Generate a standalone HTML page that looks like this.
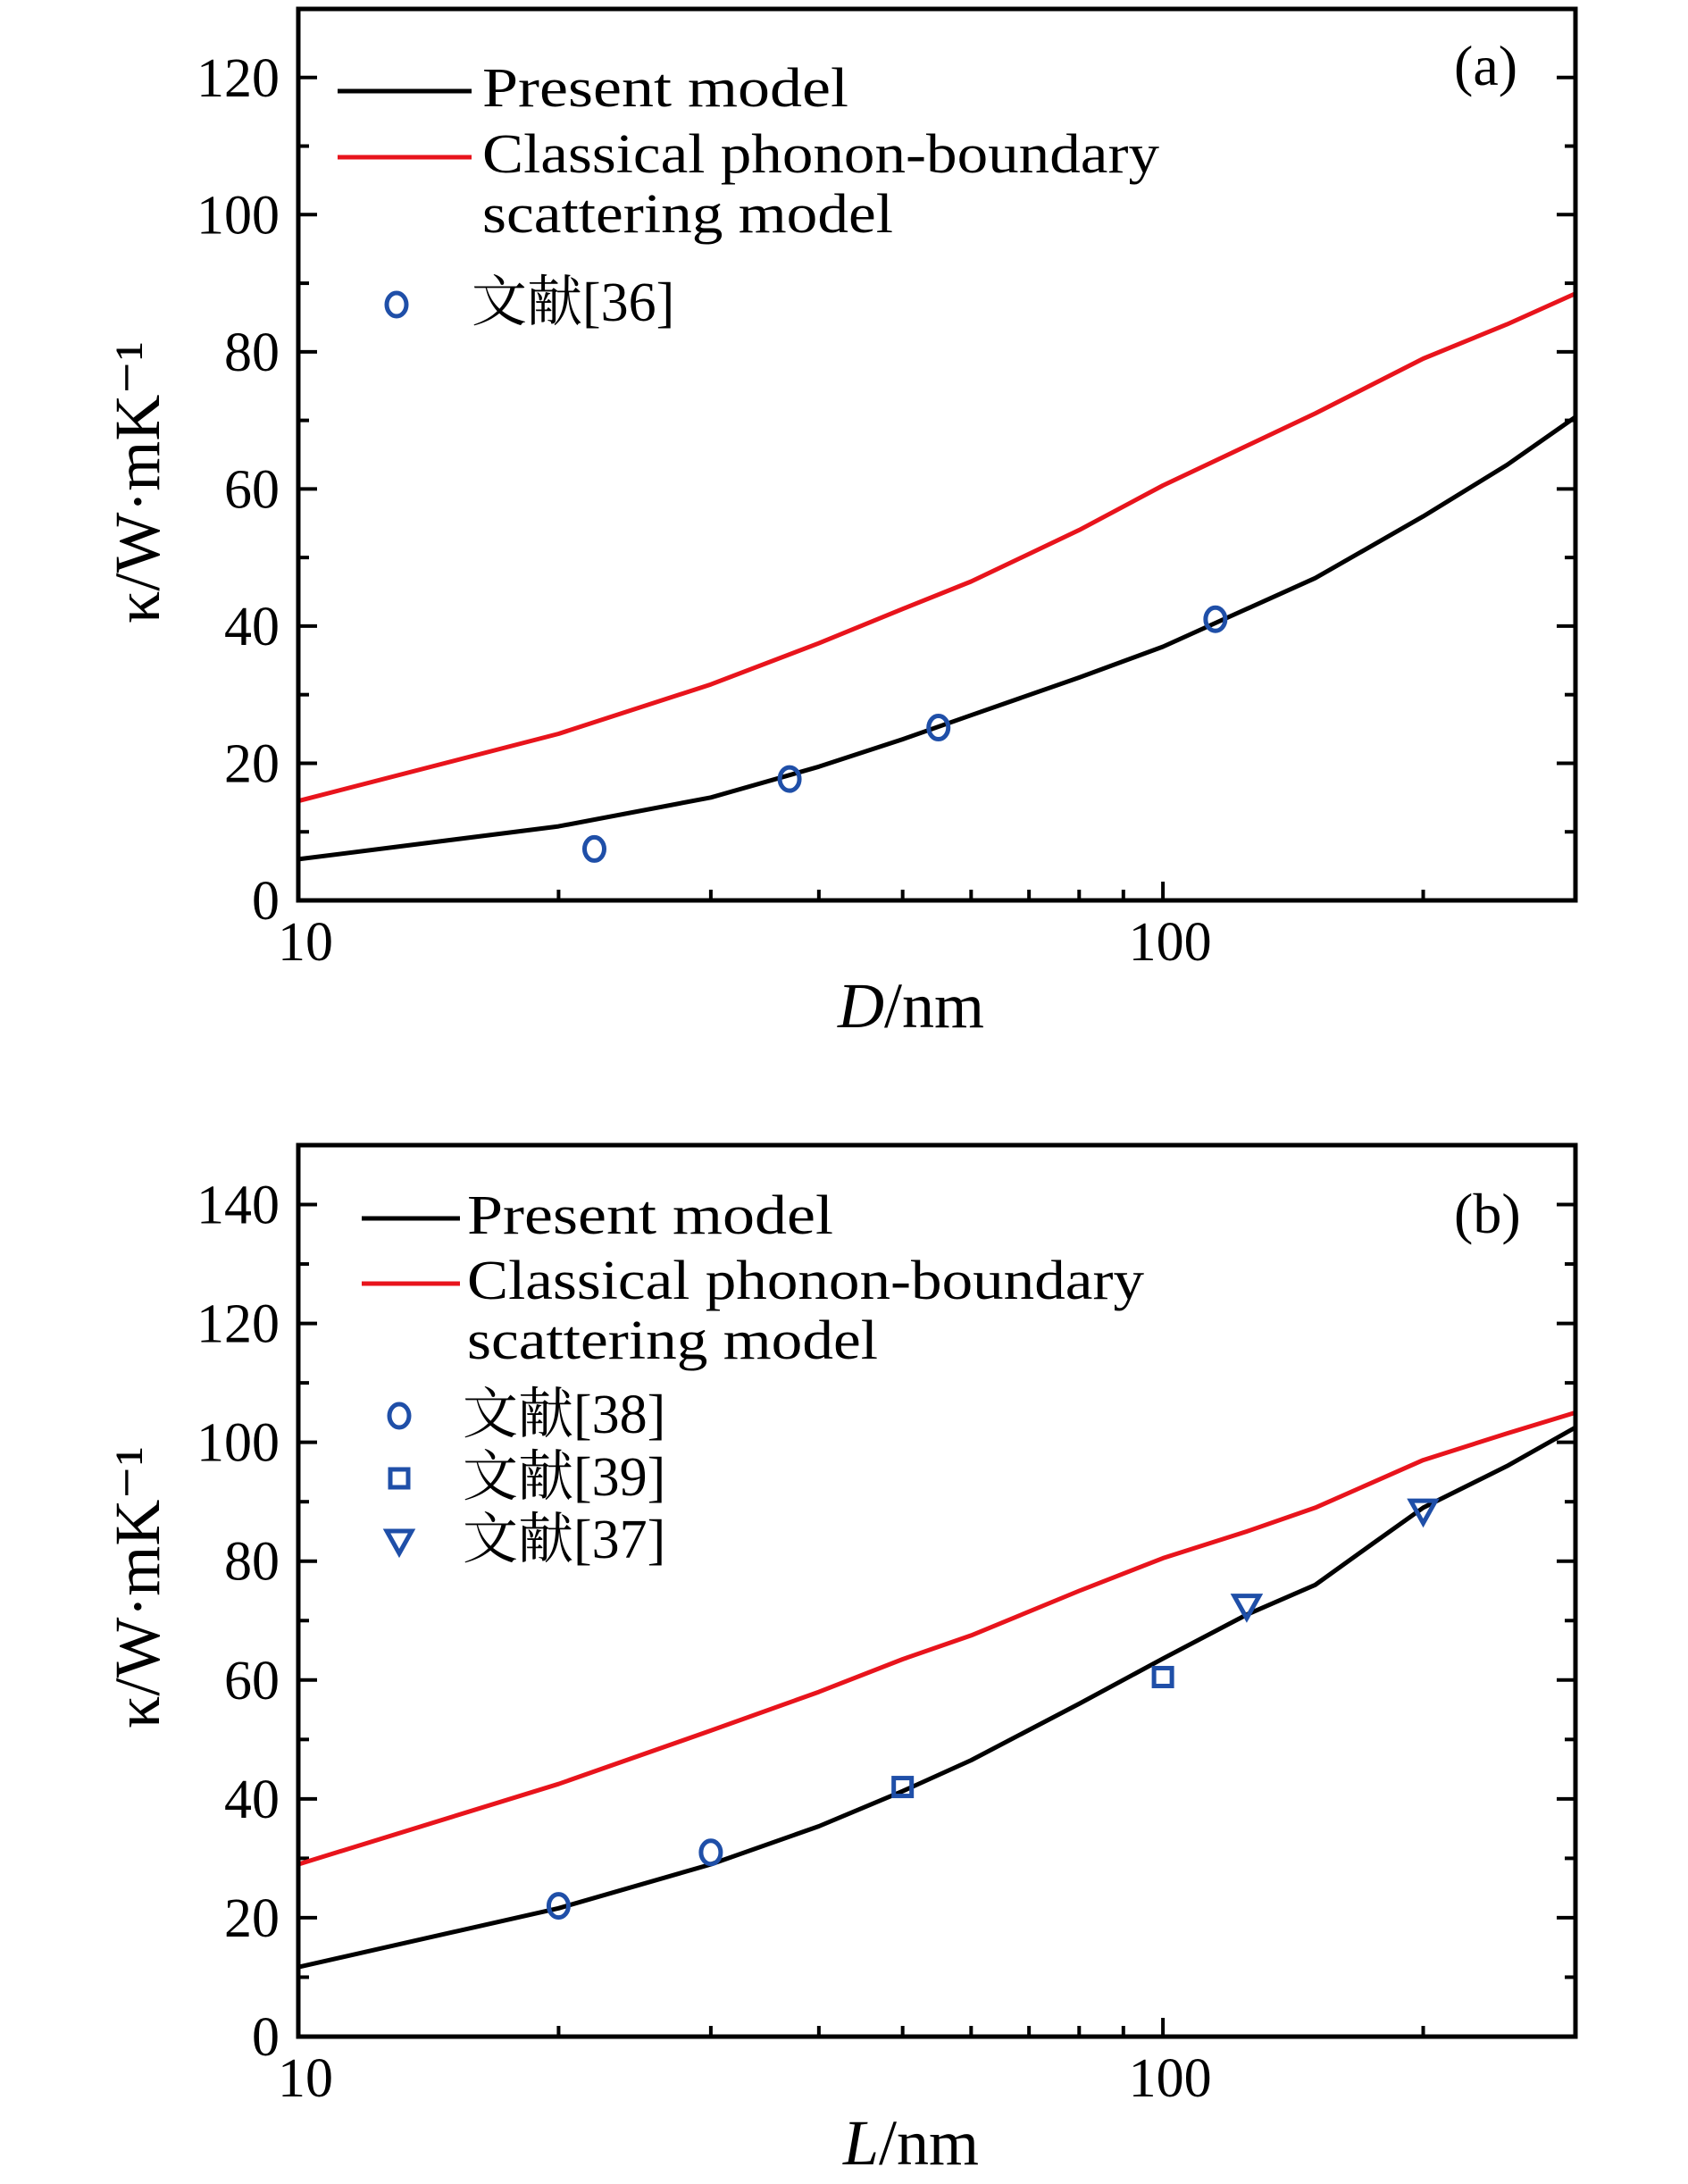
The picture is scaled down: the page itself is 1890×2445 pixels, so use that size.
<!DOCTYPE html>
<html><head><meta charset="utf-8">
<style>
html,body{margin:0;padding:0;background:#fff;}
svg{display:block;}
text{font-family:"Liberation Serif","Noto Serif CJK SC",serif;fill:#000;}
</style></head>
<body>
<svg id="chart" width="1890" height="2445" viewBox="0 0 1890 2445" xmlns="http://www.w3.org/2000/svg">
<g id="pa"></g>
<g id="pb"></g>
</svg>
<script>
// Panel (a) data
const aBlackX = [10,20,30,40,50,60,80,100,120,150,200,250,300];
const aBlackY = [6,10.8,15,19.5,23.5,27,32.5,37,41.5,47,56,63.5,70.5];
const aRedX = [10,20,30,40,50,60,80,100,150,200,250,300];
const aRedY = [14.5,24.3,31.5,37.5,42.5,46.5,54,60.5,71,79,84,88.5];
const aRef36X = [22,37,55,115];
const aRef36Y = [7.5,17.7,25.2,41];
const aYTicks = [0,20,40,60,80,100,120];
// Panel (b) data
const bBlackX = [10,20,30,40,50,60,80,100,125,150,175,200,250,300];
const bBlackY = [11.7,21.6,29,35.4,41.3,46.5,56,63.6,71,76,83,89,96,102.5];
const bRedX = [10,20,30,40,50,60,80,100,125,150,200,250,300];
const bRedY = [29,42.5,51.5,58,63.5,67.5,75,80.5,85,89,97,101.5,105];
const bRef38X = [20,30];
const bRef38Y = [22,31];
const bRef39X = [50,100];
const bRef39Y = [42,60.5];
const bRef37X = [125,200];
const bRef37Y = [72.5,88.5];
const bYTicks = [0,20,40,60,80,100,120,140];
const xTickLabels = [10,100];
const xMinor = [20,30,40,50,60,70,80,90,200,300];

const NS = "http://www.w3.org/2000/svg";
function mk(parent, tag, attrs, txt){
  const e = document.createElementNS(NS, tag);
  for (const k in attrs) e.setAttribute(k, attrs[k]);
  if (txt !== undefined) e.textContent = txt;
  parent.appendChild(e);
  return e;
}

function panel(g, cfg){
  const L=334, R=1764, T=cfg.top, B=cfg.bottom;
  const xs = v => L + (Math.log10(v)-1)/Math.log10(30)*(R-L);
  const ys = v => B - v/cfg.ymax*(B-T);
  for (let v=0; v<=cfg.ymax; v+=10){
    const major = v%20===0;
    const len = major?21:12;
    const y = ys(v);
    const t1 = mk(g,'line',{x1:L,x2:L+len,y1:y,y2:y,stroke:'#000','stroke-width':4});
    
    
    const t2 = mk(g,'line',{x1:R,x2:R-len,y1:y,y2:y,stroke:'#000','stroke-width':4});
    
    
  }
  cfg.yTicks.forEach(v=>{
    const t = mk(g,'text',{x:313,y:ys(v)+21,'text-anchor':'end','font-size':62},String(v));
    
    
  });
  xMinor.forEach(v=>{
    const x = xs(v);
    const t = mk(g,'line',{x1:x,x2:x,y1:B,y2:B-12,stroke:'#000','stroke-width':4});
    
    
  });
  xTickLabels.forEach(v=>{
    const x = xs(v);
    const tk = mk(g,'line',{x1:x,x2:x,y1:B,y2:B-21,stroke:'#000','stroke-width':4});
    
    
    const t = mk(g,'text',{x:x+8,y:B+67,'text-anchor':'middle','font-size':62},String(v));
    
    
  });
  const curve = (X,Y,color,name)=>{
    const d = X.map((v,i)=>(i?'L':'M')+xs(v).toFixed(1)+','+ys(Y[i]).toFixed(1)).join(' ');
    const p = mk(g,'path',{d:d,fill:'none',stroke:color,'stroke-width':5,'stroke-linejoin':'round'});
    
    
  };
  curve(cfg.redX,cfg.redY,'#e8141c','classical-model-line');
  curve(cfg.blackX,cfg.blackY,'#000','present-model-line');
  cfg.markers.forEach(m=>{
    m.X.forEach((v,i)=>{
      drawMarker(g,m.type,xs(v),ys(m.Y[i]),m.name);
    });
  });
  const fr = mk(g,'rect',{x:L,y:T,width:R-L,height:B-T,fill:'none',stroke:'#000','stroke-width':5});
  
  
}

function drawMarker(g,type,x,y,name){
  let e;
  if(type==='circle') e = mk(g,'ellipse',{cx:x,cy:y,rx:11,ry:13,fill:'none',stroke:'#1f4fa8','stroke-width':5});
  else if(type==='square') e = mk(g,'rect',{x:x-10,y:y-10,width:20,height:20,fill:'none',stroke:'#1f4fa8','stroke-width':5});
  else e = mk(g,'path',{d:`M${x-14},${y-11} L${x+14},${y-11} L${x},${y+14} Z`,fill:'none',stroke:'#1f4fa8','stroke-width':5,'stroke-linejoin':'miter'});
  
  
}

const ga = document.getElementById('pa');
panel(ga,{top:10,bottom:1008,ymax:130,yTicks:aYTicks,blackX:aBlackX,blackY:aBlackY,redX:aRedX,redY:aRedY,
  markers:[{type:'circle',X:aRef36X,Y:aRef36Y,name:'ref36-point'}]});
const gb = document.getElementById('pb');
panel(gb,{top:1282,bottom:2280,ymax:150,yTicks:bYTicks,blackX:bBlackX,blackY:bBlackY,redX:bRedX,redY:bRedY,
  markers:[{type:'circle',X:bRef38X,Y:bRef38Y,name:'ref38-point'},
           {type:'square',X:bRef39X,Y:bRef39Y,name:'ref39-point'},
           {type:'triangle',X:bRef37X,Y:bRef37Y,name:'ref37-point'}]});

function legendLine(g,x1,x2,y,color,name){
  const l = mk(g,'line',{x1:x1,x2:x2,y1:y,y2:y,stroke:color,'stroke-width':5});
  
  
}
function txt(g,x,y,s,size,name,extra){
  const t = mk(g,'text',Object.assign({x:x,y:y,'font-size':size},extra||{}),s);
  
  
  return t;
}
legendLine(ga,378,528,102,'#000','legend-present-line');
txt(ga,540,119,'Present model',62,'legend-present-label',{textLength:410,lengthAdjust:'spacingAndGlyphs'});
legendLine(ga,378,528,176,'#e8141c','legend-classical-line');
txt(ga,540,193,'Classical phonon-boundary',62,'legend-classical-label',{textLength:758,lengthAdjust:'spacingAndGlyphs'});
txt(ga,540,260,'scattering model',62,'legend-classical-label-2',{textLength:460,lengthAdjust:'spacingAndGlyphs'});
drawMarker(ga,'circle',444,341,'legend-ref36-marker');
txt(ga,528,359,'文献[36]',62,'legend-ref36-label');
txt(ga,1628,95,'(a)',64,'panel-label-a');
txt(ga,1020,1150,'',72,'x-axis-title-a',{'text-anchor':'middle'}).innerHTML='<tspan font-style="italic">D</tspan>/nm';
txt(ga,0,0,'κ/W·mK⁻¹',72,'y-axis-title-a',{'text-anchor':'middle',transform:'translate(178,540) rotate(-90)'});
legendLine(gb,405,515,1364,'#000','legend-present-line');
txt(gb,523,1381,'Present model',62,'legend-present-label',{textLength:410,lengthAdjust:'spacingAndGlyphs'});
legendLine(gb,405,515,1437,'#e8141c','legend-classical-line');
txt(gb,523,1454,'Classical phonon-boundary',62,'legend-classical-label',{textLength:758,lengthAdjust:'spacingAndGlyphs'});
txt(gb,523,1521,'scattering model',62,'legend-classical-label-2',{textLength:460,lengthAdjust:'spacingAndGlyphs'});
drawMarker(gb,'circle',447,1585,'legend-ref38-marker');
txt(gb,518,1604,'文献[38]',62,'legend-ref38-label');
drawMarker(gb,'square',447,1655,'legend-ref39-marker');
txt(gb,518,1674,'文献[39]',62,'legend-ref39-label');
drawMarker(gb,'triangle',447,1725,'legend-ref37-marker');
txt(gb,518,1744,'文献[37]',62,'legend-ref37-label');
txt(gb,1628,1380,'(b)',64,'panel-label-b');
txt(gb,1020,2423,'',72,'x-axis-title-b',{'text-anchor':'middle'}).innerHTML='<tspan font-style="italic">L</tspan>/nm';
txt(gb,0,0,'κ/W·mK⁻¹',72,'y-axis-title-b',{'text-anchor':'middle',transform:'translate(178,1777) rotate(-90)'});
</script>
</body></html>
